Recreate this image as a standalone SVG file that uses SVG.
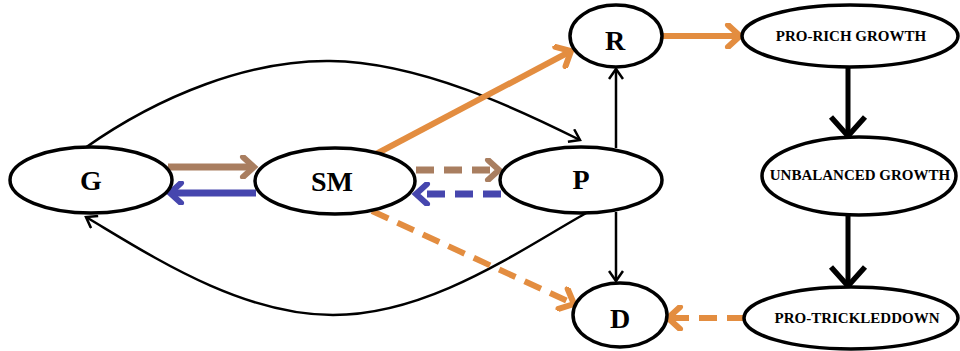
<svg xmlns="http://www.w3.org/2000/svg" width="960" height="351" viewBox="0 0 960 351">
<style>
.node ellipse{fill:#fff;stroke:#000;stroke-width:3.5}
.big{font-family:"Liberation Serif",serif;font-weight:bold;font-size:28px;text-anchor:middle}
.small{font-family:"Liberation Serif",serif;font-weight:bold;font-size:15px;text-anchor:middle}
.thin{fill:none;stroke:#000;stroke-width:2.5}
.thick{fill:none;stroke:#000;stroke-width:5}
.brown{fill:none;stroke:#a97e60;stroke-width:7}
.blue{fill:none;stroke:#4646ae;stroke-width:7}
.orange{fill:none;stroke:#e38d40;stroke-width:6}
.dash{stroke-dasharray:18 10}
</style>
<defs>
<marker id="mk" markerWidth="16" markerHeight="16" refX="12" refY="8" orient="auto" markerUnits="userSpaceOnUse"><polyline points="2,1 12,8 2,15" fill="none" stroke="#000" stroke-width="2.5"/></marker>
<marker id="mkT" markerWidth="40" markerHeight="40" refX="24" refY="20" orient="auto" markerUnits="userSpaceOnUse"><polyline points="5,3 24,20 5,37" fill="none" stroke="#000" stroke-width="5.5"/></marker>
<marker id="mbr" markerWidth="24" markerHeight="24" refX="19" refY="12" orient="auto" markerUnits="userSpaceOnUse"><polyline points="8,2 19,12 8,22" fill="none" stroke="#a97e60" stroke-width="6" stroke-linecap="round"/></marker>
<marker id="mbl" markerWidth="24" markerHeight="24" refX="19" refY="12" orient="auto" markerUnits="userSpaceOnUse"><polyline points="8,2 19,12 8,22" fill="none" stroke="#4646ae" stroke-width="6" stroke-linecap="round"/></marker>
<marker id="mor" markerWidth="26" markerHeight="26" refX="20" refY="13" orient="auto" markerUnits="userSpaceOnUse"><polyline points="8,2 20,13 8,24" fill="none" stroke="#e38d40" stroke-width="6" stroke-linecap="round"/></marker>
</defs>
<g id="connectors">
<path class="thin" d="M85,148 C160,95 250,60 330,61 C420,62 520,110 580,140" marker-end="url(#mk)"/>
<path class="thin" d="M588,212 C520,250 430,315 333,315 C240,315 150,255 86,217" marker-end="url(#mk)"/>
<line class="brown" x1="168" y1="167" x2="254" y2="167" marker-end="url(#mbr)"/>
<line class="blue" x1="256" y1="193" x2="170" y2="193" marker-end="url(#mbl)"/>
<line class="brown dash" x1="416" y1="170" x2="499" y2="170" marker-end="url(#mbr)"/>
<line class="blue dash" x1="501" y1="194" x2="416" y2="194" marker-end="url(#mbl)"/>
<line class="orange" x1="376" y1="154" x2="571" y2="51" marker-end="url(#mor)"/>
<line class="orange dash" x1="372" y1="211" x2="574" y2="304" marker-end="url(#mor)"/>
<line class="orange" x1="663" y1="36" x2="740" y2="36" marker-end="url(#mor)"/>
<line class="orange dash" x1="745" y1="318" x2="668" y2="318" marker-end="url(#mor)"/>
<line class="thin" x1="616" y1="148" x2="616" y2="69" marker-end="url(#mk)"/>
<line class="thin" x1="616" y1="212" x2="616" y2="281" marker-end="url(#mk)"/>
<line class="thick" x1="848" y1="67" x2="848" y2="136" marker-end="url(#mkT)"/>
<line class="thick" x1="848" y1="215" x2="848" y2="286" marker-end="url(#mkT)"/>
</g>
<g id="G" class="node"><ellipse cx="91" cy="180" rx="81" ry="33"/><text class="big" x="91" y="190">G</text></g>
<g id="SM" class="node"><ellipse cx="335" cy="181" rx="80" ry="33"/><text class="big" x="332" y="191">SM</text></g>
<g id="P" class="node"><ellipse cx="581" cy="180" rx="81" ry="33"/><text class="big" x="581" y="189">P</text></g>
<g id="R" class="node"><ellipse cx="616" cy="36" rx="46" ry="31"/><text class="big" x="615" y="50">R</text></g>
<g id="D" class="node"><ellipse cx="620" cy="315" rx="47" ry="32"/><text class="big" x="620" y="328">D</text></g>
<g id="PRO-RICH" class="node"><ellipse cx="850" cy="36" rx="108" ry="31"/><text class="small" x="851" y="41">PRO-RICH GROWTH</text></g>
<g id="UNBALANCED" class="node"><ellipse cx="859" cy="176" rx="97" ry="39"/><text class="small" x="860" y="180">UNBALANCED GROWTH</text></g>
<g id="PRO-TRICKLEDDOWN" class="node"><ellipse cx="851" cy="318" rx="107" ry="31"/><text class="small" x="857" y="323">PRO-TRICKLEDDOWN</text></g>
</svg>
